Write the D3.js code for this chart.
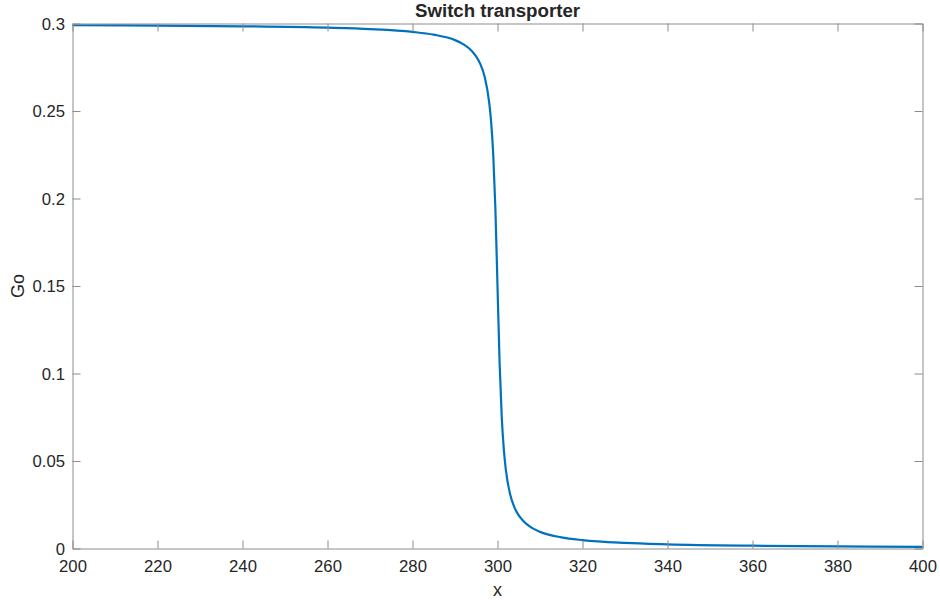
<!DOCTYPE html>
<html>
<head>
<meta charset="utf-8">
<script src="https://cdn.jsdelivr.net/npm/d3@7"></script>
<style>
  html, body { margin: 0; padding: 0; background: #fff; }
  svg { display: block; }
  text { font-family: "Liberation Sans", Arial, Helvetica, sans-serif; fill: #262626; }
</style>
</head>
<body>
<div id="chart"></div>
<script>
// Data
const xValues = [200, 220, 240, 260, 270, 280, 285, 290, 292, 294, 295, 296, 297, 298, 298.5, 299, 299.5,
                 300, 300.5, 301, 301.5, 302, 303, 304, 305, 306, 308, 310, 315, 320, 330, 340, 360, 380, 400];
const goValues = [0.2990, 0.2988, 0.2984, 0.2976, 0.2968, 0.2952, 0.2936, 0.2905, 0.2881, 0.2842, 0.2811, 0.2766, 0.2693, 0.2557, 0.2438, 0.2250, 0.1943,
                  0.1500, 0.1057, 0.0750, 0.0562, 0.0443, 0.0307, 0.0234, 0.0189, 0.0159, 0.0119, 0.0095, 0.0064, 0.0048, 0.0032, 0.0024, 0.0016, 0.0012, 0.00095];
const xTicks = [200, 220, 240, 260, 280, 300, 320, 340, 360, 380, 400];
const yTicks = [0, 0.05, 0.1, 0.15, 0.2, 0.25, 0.3];
const yTickLabels = ["0", "0.05", "0.1", "0.15", "0.2", "0.25", "0.3"];
const titleText = "Switch transporter";
const xLabel = "x";
const yLabel = "Go";

const W = 940, H = 601;
const mLeft = 72.5, mRight = 922.5, mTop = 23.5, mBottom = 548.5;

const svg = d3.select("#chart").append("svg").attr("width", W).attr("height", H);

const x = d3.scaleLinear().domain([200, 400]).range([mLeft, mRight]);
const y = d3.scaleLinear().domain([0, 0.3]).range([mBottom, mTop]);

const axisColor = "#8c8c8c";
const tickLen = 8;

const line = d3.line()
  .x((d, i) => x(xValues[i]))
  .y(d => y(d))
  .curve(d3.curveMonotoneX);

svg.append("path")
  .datum(goValues)
  .attr("d", line)
  .attr("fill", "none")
  .attr("stroke", "#0072BD")
  .attr("stroke-width", 2.2)
  .attr("stroke-linejoin", "round");

// Bottom axis
const gx = svg.append("g").attr("transform", `translate(0,${mBottom})`)
  .call(d3.axisBottom(x).tickValues(xTicks).tickSizeInner(-tickLen).tickSizeOuter(0).tickPadding(11.5).tickFormat(d3.format("d")));
// Top axis (ticks only)
const gxt = svg.append("g").attr("transform", `translate(0,${mTop})`)
  .call(d3.axisTop(x).tickValues(xTicks).tickSizeInner(-tickLen).tickSizeOuter(0).tickFormat(""));
// Left axis
const gy = svg.append("g").attr("transform", `translate(${mLeft},0)`)
  .call(d3.axisLeft(y).tickValues(yTicks).tickSizeInner(-tickLen).tickSizeOuter(0).tickPadding(7.5)
    .tickFormat((d, i) => yTickLabels[i]));
// Right axis (ticks only)
const gyr = svg.append("g").attr("transform", `translate(${mRight},0)`)
  .call(d3.axisRight(y).tickValues(yTicks).tickSizeInner(-tickLen).tickSizeOuter(0).tickFormat(""));

[gx, gxt, gy, gyr].forEach(g => {
  g.selectAll(".domain").attr("stroke", axisColor).attr("stroke-width", 1);
  g.selectAll(".tick line").attr("stroke", axisColor).attr("stroke-width", 1);
  g.selectAll(".tick text").attr("font-size", 16.7).attr("fill", "#262626")
    .style("font-family", '"Liberation Sans", Arial, sans-serif');
});
gy.selectAll(".tick text").attr("dy", "0.35em");
gx.selectAll(".tick text").attr("dy", "0.71em");

// Title
svg.append("text")
  .attr("x", (mLeft + mRight) / 2).attr("y", 17)
  .attr("text-anchor", "middle")
  .attr("font-size", 18.7).attr("font-weight", "bold")
  .attr("fill", "#000")
  .text(titleText);

// X label
svg.append("text")
  .attr("x", (mLeft + mRight) / 2).attr("y", 596)
  .attr("text-anchor", "middle")
  .attr("font-size", 18)
  .text(xLabel);

// Y label
svg.append("text")
  .attr("transform", `translate(24,${(mTop + mBottom) / 2}) rotate(-90)`)
  .attr("text-anchor", "middle")
  .attr("font-size", 18)
  .text(yLabel);
</script>
</body>
</html>
